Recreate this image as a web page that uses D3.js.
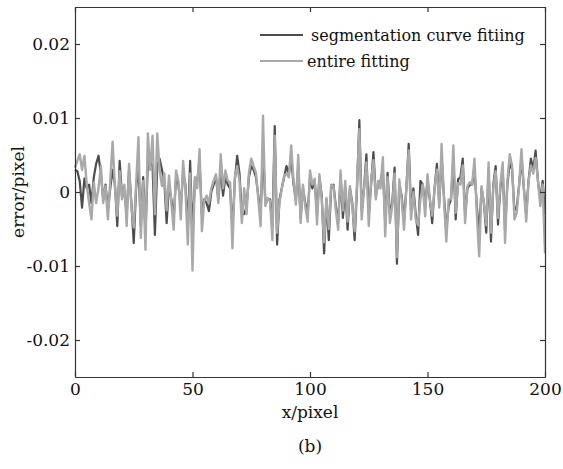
<!DOCTYPE html>
<html>
<head>
<meta charset="utf-8">
<script src="https://cdn.jsdelivr.net/npm/d3@7"></script>
<style>
  body{margin:0;background:#fff;}
  text{font-family:"DejaVu Serif","Liberation Serif",serif;fill:#111;}
</style>
</head>
<body>
<div id="chart"></div>
<script>
// values in units of 1e-3 pixel, x = 0..200
const entireFitting=[
  3.3,4.2,5.1,3.0,4.9,1.0,-1.5,-3.7,1.3,-1.5,0.5,3.5,-1.5,0.8,-3.7,1.5,6.8,0.5,-3.2,2.8,
  -1.0,1.0,-4.6,3.8,-2.0,-4.8,1.0,7.4,-6.2,1.5,-7.8,7.9,3.0,7.6,-3.0,7.9,3.0,0.8,2.5,-2.5,
  2.2,-1.5,-5.1,2.9,1.5,-3.7,4.2,0.4,-7.1,2.5,-10.6,2.0,0.5,5.8,-5.3,-1.2,-0.5,-1.5,0.5,1.5,
  2.4,-1.5,5.1,0.5,2.9,1.5,1.3,-7.6,2.0,3.5,1.5,-4.2,0.5,-3.0,2.6,4.5,3.5,2.6,-1.0,-4.6,
  10.3,-1.9,-0.8,-1.2,-6.5,7.6,-5.5,-1.5,0.5,2.2,2.5,2.0,6.3,1.5,-1.7,5.0,-4.2,1.0,-2.0,-4.0,
  2.9,1.0,1.8,-4.4,2.4,-1.0,-6.8,-0.8,-5.0,1.0,0.8,-2.5,-5.1,2.9,-2.5,1.5,-4.0,0.8,-2.0,-5.3,
  1.0,8.5,-3.7,0.5,4.0,-4.6,1.5,4.3,-1.0,1.5,0.5,4.7,-6.0,2.0,-4.2,-1.9,2.5,-8.8,1.7,-1.0,
  -5.1,0.5,5.6,-3.7,0.0,-3.7,-4.5,-1.0,1.0,-3.3,2.4,-1.0,-3.2,0.5,3.0,-2.1,6.5,-1.0,-6.7,-1.0,
  -1.0,6.3,-2.8,1.2,1.0,3.6,-4.2,0.8,1.3,1.0,4.5,-3.0,-8.7,0.8,-1.5,-4.5,4.0,-5.5,0.5,2.8,
  -3.5,1.0,4.0,-6.9,1.5,5.1,3.5,-3.7,-2.8,1.0,5.8,0.5,-4.0,1.5,3.6,2.5,4.6,1.5,-1.9,1.0,
  -8.3
];
const segmentationFitting=[
  3.0,2.8,1.5,-2.1,1.8,0.5,1.0,-1.5,2.0,3.8,4.9,2.5,-1.0,1.0,-2.5,0.5,3.0,1.0,-4.6,4.2,
  -0.5,0.0,-3.0,3.0,-1.5,-6.9,0.5,3.5,-4.5,2.0,-5.5,4.0,4.0,3.5,-5.8,3.5,4.5,3.0,1.5,-4.2,
  1.0,-1.0,-3.5,2.0,1.0,-2.0,2.5,1.0,-5.0,4.2,-6.0,1.5,1.5,4.0,-3.0,-1.0,-1.5,-2.6,0.0,1.0,
  2.0,-1.0,3.0,-0.5,2.0,1.0,0.5,-5.0,1.5,4.9,2.5,-3.0,-3.0,-2.0,2.0,3.5,3.0,2.0,-0.5,-3.0,
  6.0,-1.5,-1.0,-1.0,-4.5,8.9,-7.1,-1.0,0.5,2.0,3.5,2.5,4.5,1.0,-1.0,3.5,-3.5,0.5,-1.5,-3.0,
  2.0,0.5,1.5,-3.0,2.0,-0.5,-8.3,-1.0,-6.5,0.5,1.0,-2.0,-4.0,2.0,-3.5,0.5,-5.1,0.5,-1.5,-6.5,
  0.5,9.7,-2.5,0.5,5.1,-3.0,1.0,5.4,-0.5,1.0,1.5,3.0,-4.0,2.6,-3.0,-1.5,3.3,-9.7,1.0,-0.5,
  -4.0,0.5,6.5,-2.5,0.5,-3.0,-5.8,1.5,1.0,-2.0,1.5,-1.0,-4.2,0.5,3.8,-1.5,4.5,-0.5,-5.0,-1.9,
  -1.0,4.5,-3.7,1.7,2.0,4.5,-3.0,0.5,1.0,1.0,3.0,-2.0,-5.5,0.5,-1.5,-5.5,3.0,-6.7,1.0,3.5,
  -4.4,0.5,3.0,-5.0,1.0,4.0,3.0,-2.5,-2.0,1.0,4.5,0.5,-3.0,1.5,4.5,3.0,5.6,1.5,-1.0,1.5,
  -3.0
];
const xTicks=[0,50,100,150,200];
const yTicks=[-0.02,-0.01,0,0.01,0.02];
const yTickLabels=["-0.02","-0.01","0","0.01","0.02"];
const legendLabels=["segmentation curve fitiing","entire fitting"];

const W=563,H=469;
const m={top:7,right:18,bottom:92,left:75};
const w=W-m.left-m.right, h=H-m.top-m.bottom;

const svg=d3.select("#chart").append("svg").attr("width",W).attr("height",H);
const g=svg.append("g").attr("transform",`translate(${m.left},${m.top})`);

const x=d3.scaleLinear().domain([0,200]).range([0,w]);
const y=d3.scaleLinear().domain([-0.025,0.025]).range([h,0]);

const line=d3.line().x((d,i)=>x(i)).y(d=>y(d*1e-3));

g.append("path").datum(segmentationFitting)
  .attr("d",line).attr("fill","none")
  .attr("stroke","#4d4d4d").attr("stroke-width",2.2).attr("stroke-linejoin","round");
g.append("path").datum(entireFitting)
  .attr("d",line).attr("fill","none")
  .attr("stroke","#a9a9a9").attr("stroke-width",2.4).attr("stroke-linejoin","round");

// box with inward ticks on every side
const axisStyle=s=>{
  s.select(".domain").attr("stroke","#333").attr("stroke-width",1.2);
  s.selectAll(".tick line").attr("stroke","#333").attr("stroke-width",1.2);
  s.selectAll("text").attr("font-family","DejaVu Serif, serif").attr("font-size",17).attr("fill","#111");
};
g.append("g").attr("transform",`translate(0,${h})`)
  .call(d3.axisBottom(x).tickValues(xTicks).tickSize(-5).tickSizeOuter(0).tickPadding(6).tickFormat(d3.format("d")))
  .call(axisStyle);
g.append("g")
  .call(d3.axisTop(x).tickValues(xTicks).tickSize(-5).tickSizeOuter(0).tickFormat(""))
  .call(axisStyle);
g.append("g")
  .call(d3.axisLeft(y).tickValues(yTicks).tickSize(-5).tickSizeOuter(0).tickPadding(5)
    .tickFormat((d,i)=>yTickLabels[i]))
  .call(axisStyle);
g.append("g").attr("transform",`translate(${w},0)`)
  .call(d3.axisRight(y).tickValues(yTicks).tickSize(-5).tickSizeOuter(0).tickFormat(""))
  .call(axisStyle);

svg.append("text")
  .attr("x",m.left+w/2).attr("y",418)
  .attr("text-anchor","middle").attr("font-size",17).attr("fill","#111")
  .text("x/pixel");
svg.append("text")
  .attr("transform",`translate(24,${m.top+h/2}) rotate(-90)`)
  .attr("text-anchor","middle").attr("font-size",17).attr("fill","#111")
  .text("error/pixel");
svg.append("text")
  .attr("x",m.left+w/2).attr("y",452)
  .attr("text-anchor","middle").attr("font-size",17).attr("fill","#111")
  .text("(b)");

// legend, no box
const legendColors=["#4d4d4d","#a9a9a9"];
const lg=svg.append("g");
legendLabels.forEach((t,i)=>{
  const ly=35+i*26;
  lg.append("line").attr("x1",260).attr("x2",303).attr("y1",ly).attr("y2",ly)
    .attr("stroke",legendColors[i]).attr("stroke-width",2.2);
  lg.append("text").attr("x",i===0?311:307).attr("y",ly+6)
    .attr("font-size",16).attr("fill","#111").text(t);
});
</script>
</body>
</html>
